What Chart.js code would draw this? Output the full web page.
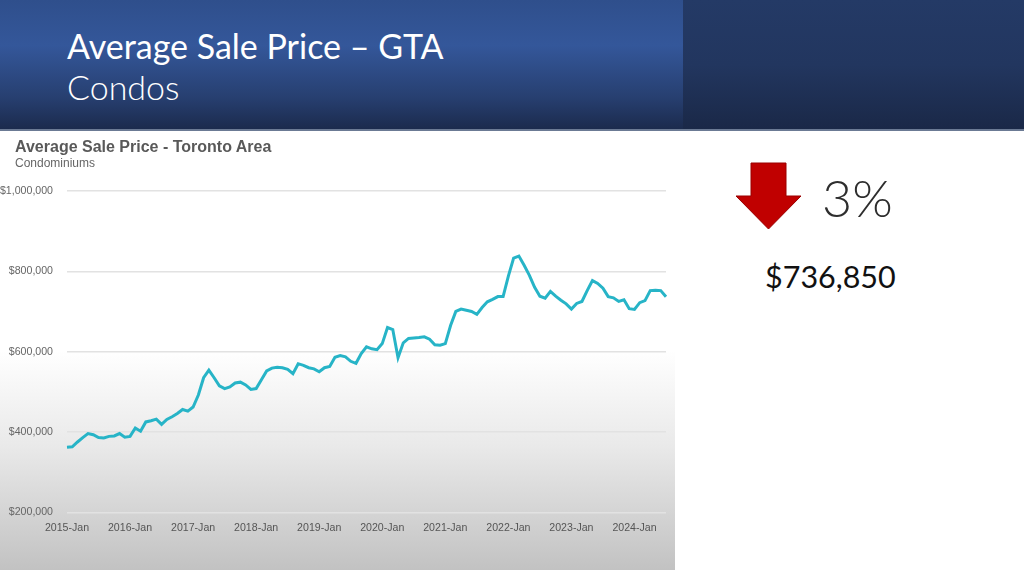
<!DOCTYPE html>
<html>
<head>
<meta charset="utf-8">
<script src="https://cdn.jsdelivr.net/npm/chart.js@4.4.1/dist/chart.umd.min.js"></script>
<style>
  html, body { margin: 0; padding: 0; }
  body { width: 1024px; height: 570px; position: relative; overflow: hidden; background: #fff; font-family: Lato, "Open Sans", sans-serif; }
  #header { position: absolute; left: 0; top: 0; width: 683px; height: 130px;
    background: linear-gradient(180deg, #2f4f8c 0%, #34579a 35%, #273f70 75%, #1b2a4c 100%); }
  #header-right { position: absolute; left: 683px; top: 0; width: 341px; height: 130px;
    background: linear-gradient(180deg, #243a66 0%, #22365f 50%, #1a2847 100%); }
  #header-line { position: absolute; left: 0; top: 129px; width: 1024px; height: 2px; background: #6b7a94; }
  .h1 { position: absolute; left: 67px; color: #fff; font-family: Lato, sans-serif; white-space: nowrap; }
  #t1 { top: 25px; font-size: 34px; }
  #t2 { top: 66px; font-size: 34px; font-weight: 300; }
  #chart-wrap { position: absolute; left: 0; top: 131px; width: 675px; height: 439px;
    background: linear-gradient(180deg, #ffffff 0%, #ffffff 50%, #e9e9e9 72%, #c2c2c2 100%); }
  #c-title { position: absolute; left: 15px; top: 138px; font: bold 16px "Liberation Sans", Arial, sans-serif; color: #595959; }
  #c-sub { position: absolute; left: 15px; top: 156px; font: 12px "Liberation Sans", Arial, sans-serif; color: #666; }
  #arrow { position: absolute; left: 735px; top: 162px; }
  #pct { position: absolute; left: 822px; top: 166px; font-size: 52px; font-weight: 300; color: #2e2e2e; font-family: Lato, sans-serif; }
  #price { position: absolute; left: 765px; top: 258px; font-size: 30.5px; color: #111; font-family: Lato, sans-serif; }
</style>
</head>
<body>
<div id="header"></div>
<div id="header-right"></div>
<div id="header-line"></div>
<div class="h1" id="t1">Average Sale Price – GTA</div>
<div class="h1" id="t2">Condos</div>

<div id="chart-wrap"><canvas id="priceChart"></canvas></div>
<div id="c-title">Average Sale Price - Toronto Area</div>
<div id="c-sub">Condominiums</div>

<svg id="arrow" width="68" height="70" viewBox="0 0 68 70">
  <polygon points="16,1 51,1 51,34 66,34 33.5,67 1,34 16,34" fill="#c00000" stroke="#9a0000" stroke-width="1"/>
</svg>
<div id="pct">3%</div>
<div id="price">$736,850</div>

<script>
// 月次の平均販売価格（コンドミニアム、トロント地域）、単位: ドル
const years  = [2015, 2016, 2017, 2018, 2019, 2020, 2021, 2022, 2023, 2024];
const months = ['Jan', 'Feb', 'Mar', 'Apr', 'May', 'Jun', 'Jul', 'Aug', 'Sep', 'Oct', 'Nov', 'Dec'];

const p2015 = [362000, 363000, 375000, 386000, 396000, 393000, 386000, 385000, 389000, 390000, 396000, 387000];
const p2016 = [389000, 410000, 402000, 425000, 428000, 432000, 419000, 431000, 438000, 446000, 456000, 452000];
const p2017 = [462000, 492000, 535000, 554000, 535000, 515000, 508000, 512000, 522000, 524000, 517000, 506000];
const p2018 = [508000, 530000, 552000, 559000, 561000, 560000, 556000, 545000, 570000, 566000, 560000, 557000];
const p2019 = [550000, 560000, 563000, 586000, 590000, 587000, 576000, 571000, 595000, 612000, 607000, 605000];
const p2020 = [620000, 660000, 655000, 585000, 622000, 633000, 634000, 635000, 637000, 631000, 617000, 616000];
const p2021 = [620000, 665000, 700000, 706000, 703000, 700000, 693000, 710000, 724000, 730000, 737000, 737000];
const p2022 = [788000, 833000, 838000, 815000, 790000, 760000, 738000, 733000, 750000, 738000, 728000, 719000];
const p2023 = [706000, 720000, 725000, 752000, 777000, 770000, 758000, 737000, 734000, 725000, 729000, 707000];
const p2024 = [705000, 722000, 727000, 752000, 753000, 752000, 736850];

const yTicks = [200000, 400000, 600000, 800000, 1000000];

const values = [].concat(p2015, p2016, p2017, p2018, p2019, p2020, p2021, p2022, p2023, p2024);
const labels = [];
years.forEach(y => months.forEach(m => labels.push(`${y}-${m}`)));
labels.length = values.length;

const fmtMoney = v => '$' + Number(v).toLocaleString('en-US');
const tickFont = { family: 'Liberation Sans, Arial, sans-serif', size: 10.6 };

new Chart(document.getElementById('priceChart'), {
  type: 'line',
  data: {
    labels,
    datasets: [{
      label: 'Average Sale Price',
      data: values,
      borderColor: '#27b4c7',
      borderWidth: 3,
      pointRadius: 0,
      tension: 0,
      fill: false,
    }]
  },
  options: {
    responsive: true,
    maintainAspectRatio: false,
    animation: false,
    layout: { padding: { left: 0, right: 9, top: 60, bottom: 27 } },
    plugins: {
      legend: { display: false },
      tooltip: { enabled: false }
    },
    scales: {
      x: {
        type: 'category',
        offset: false,
        grid: { display: false, drawTicks: false },
        border: { display: false },
        ticks: {
          autoSkip: false, maxRotation: 0, padding: 9,
          color: '#555', font: tickFont,
          // 1 月のラベルだけ表示する
          callback: (v, i) => labels[i].endsWith('-Jan') ? labels[i] : null
        }
      },
      y: {
        min: yTicks[0], max: yTicks[yTicks.length - 1],
        afterBuildTicks: axis => { axis.ticks = yTicks.map(v => ({ value: v })); },
        afterFit: axis => { axis.width = 67; },
        grid: { color: '#e2e2e2', lineWidth: 1.5, drawTicks: false },
        border: { display: false },
        ticks: {
          padding: 14,
          color: '#666', font: tickFont,
          callback: v => fmtMoney(v)
        }
      }
    }
  }
});
</script>
</body>
</html>
